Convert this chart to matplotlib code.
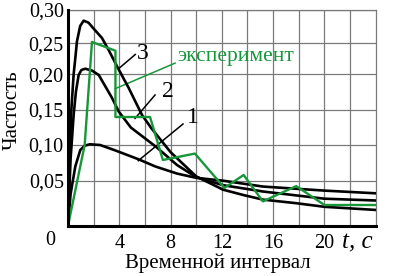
import numpy as np
import matplotlib
matplotlib.use("Agg")
import matplotlib.pyplot as plt

plt.rcParams["font.family"] = ["Liberation Serif", "DejaVu Serif"]

# кривая 1 (нижний пик)
t1 = [0, 0.2, 0.57, 0.96, 1.3, 1.7, 2.5, 3.6, 5.5, 6.8, 8.5, 10.0, 12.1, 15.2, 20.0, 24.0]
p1 = [0, 0.035, 0.070, 0.093, 0.099, 0.101, 0.100, 0.093, 0.080, 0.070, 0.060, 0.054, 0.050, 0.0435, 0.039, 0.036]

# кривая 2
t2 = [0, 0.2, 0.44, 0.62, 0.83, 1.05, 1.35, 1.87, 2.4, 3.43, 3.95, 4.9, 6.9, 8.5, 10.0, 12.1, 15.2, 20.0, 24.0]
p2 = [0, 0.08, 0.143, 0.176, 0.199, 0.207, 0.209, 0.206, 0.199, 0.167, 0.148, 0.125, 0.097, 0.072, 0.055, 0.045, 0.038, 0.030, 0.028]

# кривая 3 (верхний пик)
t3 = [0, 0.12, 0.26, 0.44, 0.57, 0.7, 0.95, 1.22, 1.6, 2.0, 2.65, 3.2, 3.82, 4.73, 5.77, 6.5, 8.0, 10.0,
      12.1, 13.7, 15.2, 17.8, 20.0, 24.0]
p3 = [0, 0.08, 0.15, 0.20, 0.226, 0.253, 0.276, 0.284, 0.281, 0.272, 0.258, 0.238, 0.213, 0.181, 0.143, 0.124,
      0.090, 0.056, 0.040, 0.034, 0.029, 0.025, 0.021, 0.0175]

# эксперимент
te = [0, 1.3, 1.87, 3.7, 3.7, 6.4, 7.4, 9.9, 12.2, 13.7, 15.2, 17.8, 20.0, 24.0]
pe = [0, 0.10, 0.252, 0.238, 0.140, 0.140, 0.079, 0.088, 0.042, 0.058, 0.027, 0.044, 0.023, 0.023]

y_ticks = [0.05, 0.10, 0.15, 0.20, 0.25, 0.30]
y_labels = ["0,05", "0,10", "0,15", "0,20", "0,25", "0,30"]
x_grid = list(range(2, 24, 2))

# шкала на исходном рисунке неравномерная
yv = [-1.0, 0, 0.05, 0.10, 0.15, 0.20, 0.25, 0.30, 2.0]
hp = [-900.0, 0, 45, 80.7, 115.7, 151.4, 182.4, 215.7, 1377.0]

def fwd(v):
    return np.interp(v, yv, hp)

def inv(h):
    return np.interp(h, hp, yv)

green = "#17963a"
grid_c = "#7a7a7a"

fig = plt.figure(figsize=(3.96, 2.76), dpi=100)
ax = fig.add_axes([68 / 396, 1 - 225.7 / 276, 307.7 / 396, 215.7 / 276])
ax.set_yscale("function", functions=(fwd, inv))
ax.set_xlim(0, 24)
ax.set_ylim(0, 0.30)

ax.set_xticks(x_grid)
ax.set_xticklabels([str(x) if x % 4 == 0 else "" for x in x_grid], fontsize=14.5)
ax.set_yticks(y_ticks)
ax.set_yticklabels(y_labels, fontsize=14.5)
ax.tick_params(length=0, pad=3)
ax.tick_params(axis="x", pad=6)
ax.grid(True, color=grid_c, linewidth=0.9)
ax.set_axisbelow(True)

for s in ["top", "right"]:
    ax.spines[s].set_color(grid_c)
    ax.spines[s].set_linewidth(0.9)
for s in ["left", "bottom"]:
    ax.spines[s].set_linewidth(2.2)
    ax.spines[s].set_zorder(5)

ax.plot(t1, p1, color="black", lw=1.9, zorder=3)
ax.plot(t2, p2, color="black", lw=1.9, zorder=3)
ax.plot(t3, p3, color="black", lw=1.9, zorder=3)
ax.plot(te, pe, color=green, lw=1.7, zorder=4)

# выноски
ax.plot([4.0, 5.25], [0.210, 0.232], color="black", lw=1.1)
ax.plot([5.23, 6.79], [0.138, 0.171], color="black", lw=1.1)
ax.plot([5.48, 8.97], [0.078, 0.130], color="black", lw=1.1)
ax.plot([3.7, 8.35], [0.180, 0.218], color=green, lw=1.1)

ax.text(5.85, 0.234, "3", fontsize=17, ha="center", va="center")
ax.text(7.8, 0.176, "2", fontsize=17, ha="center", va="center")
ax.text(9.75, 0.139, "1", fontsize=17, ha="center", va="center")
ax.text(8.5, 0.228, "эксперимент", fontsize=15.5, color=green, ha="left", va="center")

ax.text(-0.058, -0.068, "0", fontsize=14.5, ha="center", va="center", transform=ax.transAxes)
ax.text(22.6, -0.078, "t, c", fontsize=18, style="italic", ha="center", va="center",
        transform=ax.get_xaxis_transform())

fig.text(218 / 396, 1 - 263 / 276, "Временной интервал", fontsize=15, ha="center", va="center")
fig.text(12 / 396, 1 - 110 / 276, "Частость", fontsize=15, rotation=90, ha="center", va="center")

fig.savefig("out.png", dpi=100)
